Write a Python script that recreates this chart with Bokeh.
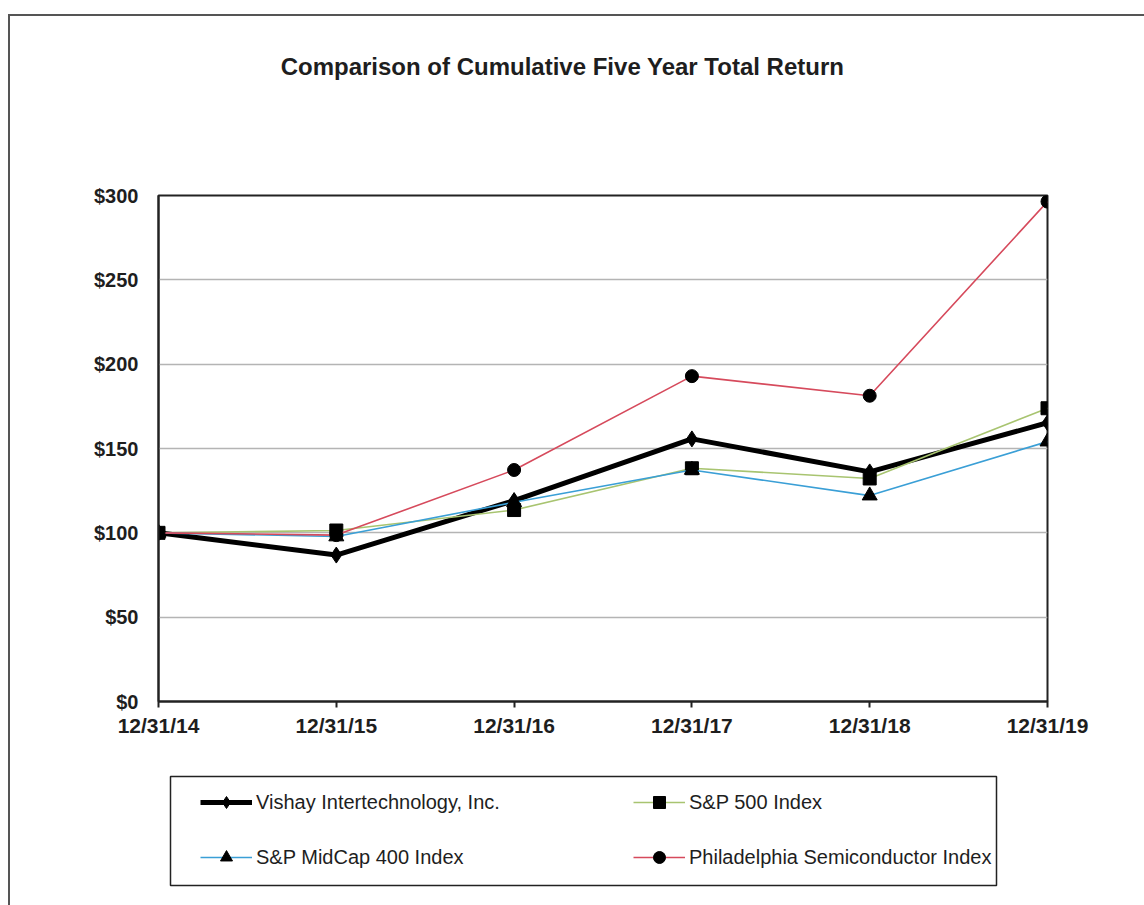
from bokeh.plotting import figure
from bokeh.layouts import column
from bokeh.models import (Range1d, FixedTicker, Legend, LegendItem,
                          BoxAnnotation, Label)
from bokeh.embed import file_html
from bokeh.resources import INLINE

# ---- data ----
dates = ["12/31/14", "12/31/15", "12/31/16", "12/31/17", "12/31/18", "12/31/19"]
vishay = [100, 86.82, 119.13, 155.69, 136.12, 165.26]
sp500 = [100, 101.38, 113.51, 138.29, 132.23, 173.86]
midcap = [100, 97.82, 118.11, 137.30, 122.08, 154.07]
phlx = [100, 98.66, 137.26, 192.91, 181.28, 296.38]
y_ticks = [0, 50, 100, 150, 200, 250, 300]
y_tick_labels = ["$0", "$50", "$100", "$150", "$200", "$250", "$300"]
series_names = ["Vishay Intertechnology, Inc.", "S&P 500 Index",
                "S&P MidCap 400 Index", "Philadelphia Semiconductor Index"]
title_text = "Comparison of Cumulative Five Year Total Return"

xs = list(range(len(dates)))
FONT = "Liberation Sans"
W = 1134
C_VIS, C_SP, C_MID, C_PHL = "black", "#a8c470", "#3a9fd6", "#d64a5c"


def bare(fig):
    fig.axis.visible = False
    fig.grid.visible = False
    fig.outline_line_color = None
    fig.background_fill_color = "white"
    fig.border_fill_color = "white"


# ---- title strip (frame is aligned with the chart frame below) ----
tf = figure(width=W, height=120, output_backend="svg", toolbar_location=None,
            x_range=Range1d(0, 1), y_range=Range1d(0, 1),
            min_border_left=148, min_border_right=97,
            min_border_top=0, min_border_bottom=0)
bare(tf)
tf.add_layout(Label(x=404, y=70, x_units="screen", y_units="screen",
                    text=title_text, text_align="center", text_baseline="middle",
                    text_font=FONT, text_font_style="bold",
                    text_font_size="24px", text_color="#1e1e1e"))

# ---- chart ----
p = figure(width=W, height=624, output_backend="svg", toolbar_location=None,
           x_range=Range1d(0, len(dates) - 1), y_range=Range1d(0, 300),
           min_border_left=148, min_border_right=97,
           min_border_top=59, min_border_bottom=59)
p.background_fill_color = "white"
p.border_fill_color = "white"
p.outline_line_color = "#222222"
p.outline_line_width = 2

p.xaxis.ticker = FixedTicker(ticks=xs)
p.xaxis.major_label_overrides = {i: d for i, d in zip(xs, dates)}
p.yaxis.ticker = FixedTicker(ticks=y_ticks)
p.yaxis.major_label_overrides = {t: l for t, l in zip(y_ticks, y_tick_labels)}
for ax in (p.xaxis, p.yaxis):
    ax.axis_line_color = "#222222"
    ax.axis_line_width = 2
    ax.major_tick_line_color = "#222222"
    ax.major_tick_line_width = 2
    ax.minor_tick_line_color = None
    ax.major_label_text_font = FONT
    ax.major_label_text_font_style = "bold"
    ax.major_label_text_color = "#1e1e1e"
p.xaxis.major_tick_out = 6
p.xaxis.major_tick_in = 0
p.xaxis.major_label_standoff = 6
p.xaxis.major_label_text_font_size = "21px"
p.yaxis.major_tick_out = 0
p.yaxis.major_tick_in = 0
p.yaxis.major_label_standoff = 20
p.yaxis.major_label_text_font_size = "20px"

p.xgrid.grid_line_color = None
p.ygrid.ticker = FixedTicker(ticks=y_ticks)
p.ygrid.grid_line_color = "#b4b4b4"
p.ygrid.grid_line_width = 1.5

p.line(xs, vishay, line_color=C_VIS, line_width=5)
p.scatter(xs, vishay, marker="diamond", size=16, fill_color="black", line_color="black")
p.line(xs, sp500, line_color=C_SP, line_width=1.6)
p.scatter(xs, sp500, marker="square", size=13, fill_color="black", line_color="black")
p.line(xs, midcap, line_color=C_MID, line_width=1.6)
p.scatter(xs, midcap, marker="triangle", size=15, fill_color="black", line_color="black")
p.line(xs, phlx, line_color=C_PHL, line_width=1.6)
p.scatter(xs, phlx, marker="circle", size=13, fill_color="black", line_color="black")

# ---- legend strip (its renderers hold the same series, kept out of view) ----
lf = figure(width=W, height=145, output_backend="svg", toolbar_location=None,
            x_range=Range1d(-20, -19), y_range=Range1d(-20, -19),
            min_border_left=148, min_border_right=97,
            min_border_top=0, min_border_bottom=0)
bare(lf)
kv_l = lf.line(xs, vishay, line_color=C_VIS, line_width=5)
kv_m = lf.scatter(xs, vishay, marker="diamond", size=9, fill_color="black", line_color="black")
ks_l = lf.line(xs, sp500, line_color=C_SP, line_width=1.6)
ks_m = lf.scatter(xs, sp500, marker="square", size=6, fill_color="black", line_color="black")
km_l = lf.line(xs, midcap, line_color=C_MID, line_width=1.6)
km_m = lf.scatter(xs, midcap, marker="triangle", size=7, fill_color="black", line_color="black")
kp_l = lf.line(xs, phlx, line_color=C_PHL, line_width=1.6)
kp_m = lf.scatter(xs, phlx, marker="circle", size=6, fill_color="black", line_color="black")

# column-major order: column 1 = Vishay, MidCap; column 2 = S&P 500, PHLX
items = [
    LegendItem(label=series_names[0], renderers=[kv_l, kv_m]),
    LegendItem(label=series_names[2], renderers=[km_l, km_m]),
    LegendItem(label=series_names[1], renderers=[ks_l, ks_m]),
    LegendItem(label=series_names[3], renderers=[kp_l, kp_m]),
]
legend = Legend(items=items, location=(42, 33), ncols=2,
                padding=0, margin=0, spacing=25,
                glyph_width=52, glyph_height=30, label_height=30,
                label_width=352, label_standoff=4,
                label_text_font=FONT, label_text_font_size="20px",
                label_text_color="#1e1e1e",
                border_line_alpha=0, background_fill_alpha=0)
lf.add_layout(legend, "center")
lf.add_layout(BoxAnnotation(left=12, right=838, top=129, bottom=20,
                            left_units="screen", right_units="screen",
                            top_units="screen", bottom_units="screen",
                            fill_alpha=0, line_color="#222222", line_alpha=1.0,
                            line_width=1.5))

page = column(tf, p, lf, spacing=0,
              styles={"margin-left": "8px", "margin-top": "14px",
                      "border-left": "2px solid #555555",
                      "border-top": "2px solid #555555"})

open("out.html", "w").write(file_html(page, INLINE))
